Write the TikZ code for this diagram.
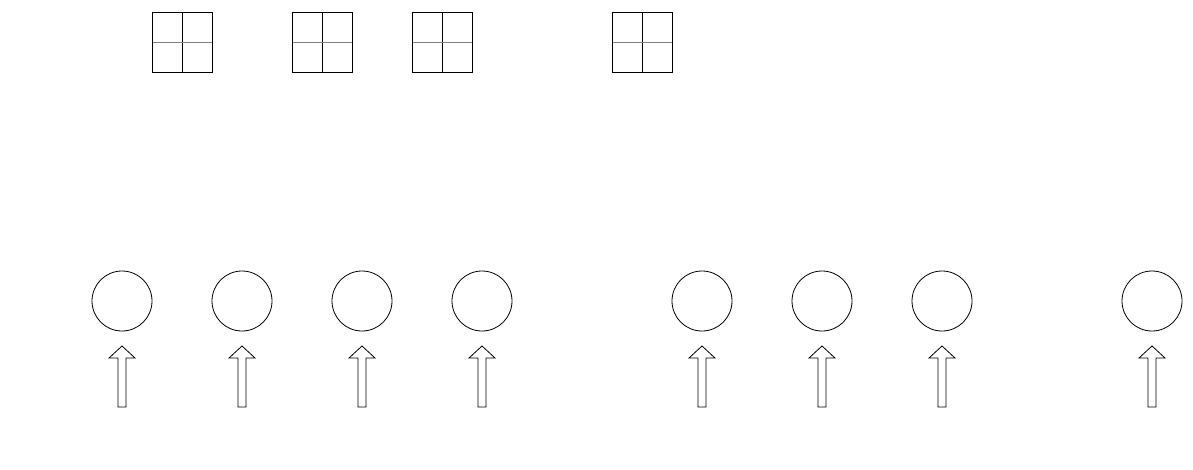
\documentclass[tikz,border=0pt]{standalone}
\begin{document}
\begin{tikzpicture}[x=1pt,y=-1pt,line width=0.8pt,
  cell/.style={draw,minimum size=60pt,inner sep=0pt,path picture={\draw (path picture bounding box.north)--(path picture bounding box.south);\draw[gray] (path picture bounding box.west)--(path picture bounding box.east);}},
  unit/.style={draw,circle,minimum size=60pt,inner sep=0pt}]
\useasboundingbox (0,0) rectangle (1193,469);
\foreach \x [count=\i] in {182,322,442,642} \node[cell] (s\i) at (\x,42) {};
\foreach \x [count=\i] in {122,242,362,482,702,822,942,1152}{
  \node[unit] (c\i) at (\x,301) {};
  \coordinate (a\i) at (\x,407);
  \draw (a\i) ++(-4,0) -- ++(0,-49) -- ++(-9,0) -- ++(13,-12) -- ++(13,12) -- ++(-9,0) -- ++(0,49) -- cycle;
}
\end{tikzpicture}
\end{document}
